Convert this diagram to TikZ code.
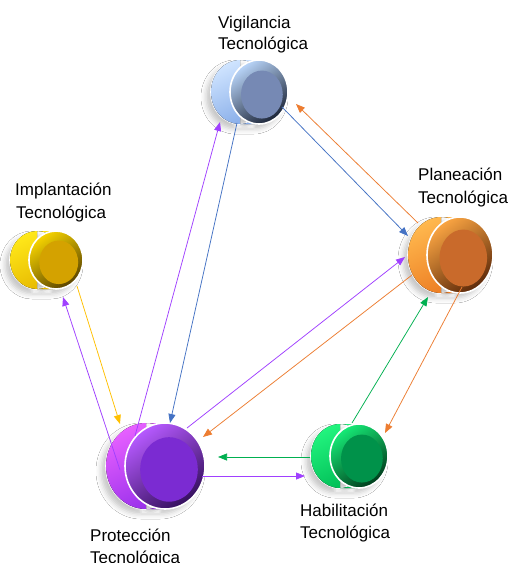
\documentclass[tikz,border=0pt]{standalone}
\usepackage{fontspec}
\setmainfont{Liberation Sans}
\usetikzlibrary{arrows.meta,shadows.blur,calc}
\definecolor{vigA}{HTML}{CFE4FF}\definecolor{vigB}{HTML}{86ACE8}\definecolor{vigC}{HTML}{B8D4F8}\definecolor{vigD}{HTML}{1C2538}\definecolor{vigE}{HTML}{7689B4}
\definecolor{plaA}{HTML}{FFB84E}\definecolor{plaB}{HTML}{EC7C22}\definecolor{plaC}{HTML}{F9A442}\definecolor{plaD}{HTML}{5E2A0A}\definecolor{plaE}{HTML}{C96A2B}
\definecolor{impA}{HTML}{FFE81A}\definecolor{impB}{HTML}{E6B800}\definecolor{impC}{HTML}{F7D400}\definecolor{impD}{HTML}{5A4300}\definecolor{impE}{HTML}{D4A200}
\definecolor{proA}{HTML}{E660FF}\definecolor{proB}{HTML}{962EEA}\definecolor{proC}{HTML}{B65AFF}\definecolor{proD}{HTML}{35105E}\definecolor{proE}{HTML}{7B2BD2}
\definecolor{habA}{HTML}{22F47E}\definecolor{habB}{HTML}{00BC56}\definecolor{habC}{HTML}{16EA76}\definecolor{habD}{HTML}{003C1C}\definecolor{habE}{HTML}{00924A}
\definecolor{cblue}{HTML}{4472C4}\definecolor{corange}{HTML}{ED7D31}\definecolor{cpurple}{HTML}{A040FF}\definecolor{cgreen}{HTML}{00B050}\definecolor{cyellow}{HTML}{FFC000}
\newcommand{\mycyl}[6]{%
  \coordinate (#6) at (#2,#3);
  \path[blur shadow={shadow xshift=-5pt,shadow yshift=-5pt,shadow blur radius=5pt,shadow opacity=22}]
    ({#2-19},#3) ellipse[x radius=#4,y radius=#5] ({#2-19},{#3-#5}) rectangle (#2,{#3+#5}) (#2,#3) ellipse[x radius=#4,y radius=#5];
  \draw[white,line width=1.6pt] ({#2-19},#3) ellipse[x radius=#4,y radius=#5];
  \fill[shading=axis,top color=#1A,bottom color=#1B,shading angle=25]
    ({#2-19},#3) ellipse[x radius=#4,y radius=#5] ({#2-19},{#3-#5}) rectangle (#2,{#3+#5});
  \draw[white,line width=1.6pt,shading=axis,top color=#1C,bottom color=#1D,shading angle=35]
    (#2,#3) ellipse[x radius=#4,y radius=#5];
  \fill[#1E] ({#2+0.1*#4},{#3+0.08*#5}) ellipse[x radius={0.72*#4},y radius={0.75*#5}];
}
\tikzset{
  conn/.style={line width=0.75pt,-{Triangle[length=9pt,width=7pt]}},
  lbl/.style={anchor=base west,inner sep=0pt,font=\fontsize{17}{21}\selectfont}
}
\begin{document}
\begin{tikzpicture}[x=1pt,y=-1pt]
\useasboundingbox[fill=white] (0,0) rectangle (514,563);
\mycyl{vig}{259}{92}{29}{32}{vig}
\mycyl{pla}{460}{255}{33}{38}{pla}
\mycyl{imp}{56}{260}{27}{29}{imp}
\mycyl{pro}{165}{466}{40}{43}{pro}
\mycyl{hab}{359}{456}{29}{32}{hab}
% connectors
\draw[conn,cblue] ($(vig)+(23,15)$) -- ($(pla)+(-52,-19)$);
\draw[conn,corange] ($(pla)+(-42,-32)$) -- ($(vig)+(37,12)$);
\draw[conn,cpurple] ($(pro)+(-30,-30)$) -- ($(vig)+(-39,30)$);
\draw[conn,cblue] ($(vig)+(-22,31)$) -- ($(pro)+(5,-43)$);
\draw[conn,cpurple] ($(pro)+(22,-38)$) -- ($(pla)+(-55,2)$);
\draw[conn,corange] ($(pla)+(-48,20)$) -- ($(pro)+(38,-29)$);
\draw[conn,cgreen] ($(hab)+(-7,-33)$) -- ($(pla)+(-32,42)$);
\draw[conn,corange] ($(pla)+(2,32)$) -- ($(hab)+(26,-23)$);
\draw[conn,cgreen] ($(hab)+(-49,1)$) -- ($(pro)+(53,-9)$);
\draw[conn,cpurple] ($(pro)+(37,10)$) -- ($(hab)+(-54,20)$);
\draw[conn,cyellow] ($(imp)+(21,26)$) -- ($(pro)+(-45,-42)$);
\draw[conn,cpurple] ($(pro)+(-45,4)$) -- ($(imp)+(7,37)$);
% labels
\node[lbl] (vigT1) at (218,28) {Vigilancia};
\node[lbl] (vigT2) at (218,49) {Tecnológica};
\node[lbl] (plaT1) at (418,180) {Planeación};
\node[lbl] (plaT2) at (418,203) {Tecnológica};
\node[lbl] (impT1) at (15,195) {Implantación};
\node[lbl] (impT2) at (16,218) {Tecnológica};
\node[lbl] (proT1) at (90,541) {Protección};
\node[lbl] (proT2) at (90,563) {Tecnológica};
\node[lbl] (habT1) at (300,516) {Habilitación};
\node[lbl] (habT2) at (300,538) {Tecnológica};
\end{tikzpicture}
\end{document}
